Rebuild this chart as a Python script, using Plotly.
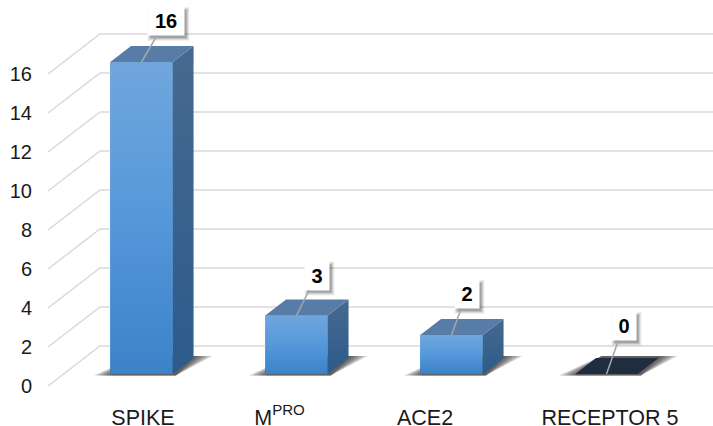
import plotly.graph_objects as go

categories = ["SPIKE", "M<sup>PRO</sup>", "ACE2", "RECEPTOR 5"]
values = [16, 3, 2, 0]
y_ticks = [0, 2, 4, 6, 8, 10, 12, 14, 16]

# oblique projection (axis units)
W, H = 713, 426
UX, UY = 155.0, 19.5          # px per category, px per value
X0_PX, Y0_PX = 125.9, 386.0   # pixel position of category 0 / value 0 on the front plane
DX, DY = 52 / UX, 40 / UY     # wall depth
L_M, B_M = 36, 26
BAR_W = 62.5 / UX
D0, D1 = 0.30, 0.70           # bar depth span

def proj(x, v, d):
    return x + DX * d, v + DY * d

def poly(points):
    xs, ys = zip(*[proj(*p) for p in points])
    return list(xs) + [xs[0]], list(ys) + [ys[0]]

fig = go.Figure()

# walls / grid
wall_left = (48 - X0_PX) / UX
wall_right = (713 - X0_PX) / UX - DX
gx, gy = [], []
for t in y_ticks:
    for p in [(wall_left, t, 0), (wall_left, t, 1), (wall_right, t, 1)]:
        a, b = proj(*p)
        gx.append(a); gy.append(b)
    gx.append(None); gy.append(None)
fig.add_trace(go.Scatter(x=gx, y=gy, mode="lines", line=dict(color="#d9d9d9", width=1.5),
                         hoverinfo="skip", showlegend=False))

# bars (front face through the bar trace)
fig.add_trace(go.Bar(x=list(range(len(values))), y=values,
                     base=[DY * D0] * len(values),
                     offset=[DX * D0 - BAR_W / 2] * len(values),
                     width=BAR_W, marker=dict(color="#5598d8", line_width=0), showlegend=False))

for i, v in enumerate(values):
    l, r = i - BAR_W / 2, i + BAR_W / 2
    # floor shadow, layered for a soft edge
    for e in [16, 12, 8, 4, 0]:
        ex = e / UX
        sx, sy = poly([(l - ex, -1.5 / UY, D0), (r + 3 / UX, -1.5 / UY, D0),
                       (r + ex, 0, D1 + 0.05), (l + 3 / UX, 0, D1 + 0.05)])
        fig.add_trace(go.Scatter(x=sx, y=sy, mode="lines", fill="toself", line_width=0,
                                 fillcolor="rgba(40,40,40,0.24)", hoverinfo="skip", showlegend=False))

for i, v in enumerate(values):
    l, r = i - BAR_W / 2, i + BAR_W / 2
    if v > 0:
        # front gradient
        sx, sy = poly([(l, 0, D0), (r, 0, D0), (r, v, D0), (l, v, D0)])
        fig.add_trace(go.Scatter(x=sx, y=sy, mode="lines", fill="toself", line_width=0,
                                 fillgradient=dict(type="vertical", colorscale=[
                                     [0, "#3b82c8"], [0.5, "#5598da"], [1, "#70a6dd"]]),
                                 hoverinfo="skip", showlegend=False))
        # side
        sx, sy = poly([(r, 0, D0), (r, 0, D1), (r, v, D1), (r, v, D0)])
        fig.add_trace(go.Scatter(x=sx, y=sy, mode="lines", fill="toself", line_width=0,
                                 fillgradient=dict(type="vertical", colorscale=[
                                     [0, "#2c5b8c"], [1, "#47698f"]]),
                                 hoverinfo="skip", showlegend=False))
    # top
    sx, sy = poly([(l, v, D0), (r, v, D0), (r, v, D1), (l, v, D1)])
    fig.add_trace(go.Scatter(x=sx, y=sy, mode="lines", fill="toself", line_width=0,
                             fillcolor="#567ca7" if v > 0 else "#1f2d3f",
                             hoverinfo="skip", showlegend=False))

# data labels: native annotations with leader lines, plus soft shadow rectangles
label_ax = [24, 20, 15, 17]
label_ay = [-41, -40, -41, -48]
shapes = []
for i, v in enumerate(values):
    ax_, ay_ = proj(i, v, D0)
    half = 18 if v >= 10 else 12
    fig.add_annotation(x=ax_, y=ay_, ax=label_ax[i], ay=label_ay[i], text=f"<b>{v}</b>",
                       showarrow=True, arrowhead=0, arrowwidth=1.5, arrowcolor="#a6a6a6",
                       font=dict(family="Liberation Sans", size=20, color="#000000"),
                       bgcolor="#ffffff", width=2 * half, height=28, borderpad=0)
    for g, a in [(3, 0.06), (2, 0.09), (1, 0.12), (0, 0.15)]:
        shapes.append(dict(type="rect", xref="x", yref="y", xsizemode="pixel", ysizemode="pixel",
                           xanchor=ax_, yanchor=ay_,
                           x0=label_ax[i] - half + 3 - g, x1=label_ax[i] + half + 3 + g,
                           y0=-label_ay[i] - 14 - 3 - g, y1=-label_ay[i] + 14 - 3 + g,
                           fillcolor=f"rgba(0,0,0,{a})", line_width=0, layer="above"))

label_nudge = [1.5 / UX, -17 / UX, -26.5 / UX, 3.5 / UX]
tick_x = [i + DX * D0 + label_nudge[i] for i in range(len(categories))]

fig.update_layout(
    width=W, height=H, autosize=False,
    margin=dict(l=L_M, r=0, t=0, b=B_M, pad=0),
    paper_bgcolor="#ffffff", plot_bgcolor="#ffffff",
    showlegend=False, shapes=shapes, barmode="overlay",
    font=dict(family="Liberation Sans", color="#1a1a1a", size=20),
    xaxis=dict(range=[(L_M - X0_PX) / UX, (W - X0_PX) / UX], tickmode="array", automargin=False,
               tickvals=tick_x, ticktext=categories, showgrid=False, zeroline=False,
               showline=False, ticks="", tickangle=0, tickfont=dict(size=21.5),
               ticklabelstandoff=2),
    yaxis=dict(range=[(Y0_PX - (H - B_M)) / UY, Y0_PX / UY], tickmode="array", automargin=False,
               tickvals=y_ticks, showgrid=False, zeroline=False, showline=False, ticks="",
               tickfont=dict(size=20), ticklabelstandoff=3),
)
fig.write_html("out.html", config=dict(displayModeBar=False),
               post_script="document.body.style.margin='0';document.body.style.overflow='hidden';")
